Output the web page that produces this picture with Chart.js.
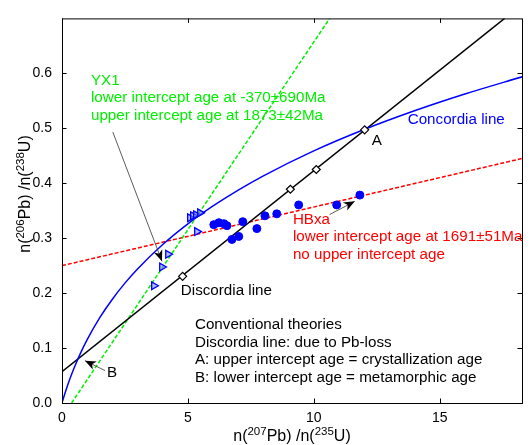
<!DOCTYPE html>
<html lang="en">
<head>
<meta charset="utf-8">
<title>Concordia diagram</title>
<script src="https://cdn.jsdelivr.net/npm/chart.js"></script>
<style>
  html, body { margin: 0; padding: 0; background: #fff; }
  #wrap { width: 530px; height: 445px; position: relative; }
</style>
</head>
<body>
<div id="wrap"><canvas id="chart"></canvas></div>
<script>
// concordia curve
const concX = [0, 0.05, 0.1, 0.2, 0.3, 0.5, 0.75, 1, 1.5, 2, 2.5, 3, 4, 5, 6, 7, 8, 10, 12, 14, 16, 18.3];
const concY = [0, 0.0077, 0.0151, 0.0291, 0.0422, 0.066, 0.0922, 0.1154, 0.1553, 0.1889, 0.2182, 0.244, 0.2885, 0.3261, 0.3586, 0.3875, 0.4135, 0.4589, 0.4978, 0.5319, 0.5624, 0.594];

// fitted lines (end points)
const discX = [0, 17.58];
const discY = [0.057, 0.7];
const yx1LineX = [0.38, 10.63];
const yx1LineY = [0, 0.7];
const hbxaLineX = [0, 18.27];
const hbxaLineY = [0.25, 0.445];

// diamonds on the discordia line
const nodeX = [4.79, 9.07, 10.1, 12.02];
const nodeY = [0.2305, 0.389, 0.425, 0.4972];

// YX1 samples (triangles)
const yx1X = [5.08, 5.2, 5.32, 5.48, 5.36, 4.21, 3.97, 3.65];
const yx1Y = [0.3372, 0.3408, 0.3425, 0.3461, 0.312, 0.2708, 0.2475, 0.2134];

// HBxa samples (dots)
const hbxaX = [6.03, 6.23, 6.43, 6.55, 7.18, 6.75, 7.02, 7.74, 8.06, 8.53, 9.4, 10.91, 11.83];
const hbxaY = [0.3246, 0.3282, 0.3264, 0.3228, 0.33, 0.2977, 0.3031, 0.3174, 0.3407, 0.3443, 0.3605, 0.3605, 0.3784];

const xTicks = [0, 5, 10, 15];
const yTicks = [0, 0.1, 0.2, 0.3, 0.4, 0.5, 0.6];

const FONT = '"Liberation Sans", Arial, Helvetica, sans-serif';
const BLUE = '#0000ff', GREEN = '#00ee00', RED = '#ff0000';

// text notes, anchored in data units (left / baseline of first line)
const notes = [
  {x: 1.15, y: 0.579, color: GREEN, lines: ['YX1', 'lower intercept age at -370±690Ma', 'upper intercept age at 1873±42Ma']},
  {x: 13.73, y: 0.5075, color: BLUE, lines: ['Concordia line']},
  {x: 12.3, y: 0.47, color: '#000', lines: ['A']},
  {x: 9.17, y: 0.3264, color: RED, lines: ['HBxa', 'lower intercept age at 1691±51Ma', 'no upper intercept age']},
  {x: 4.72, y: 0.197, color: '#000', lines: ['Discordia line']},
  {x: 1.79, y: 0.0466, color: '#000', lines: ['B']},
  {x: 5.28, y: 0.1345, color: '#000', lines: ['Conventional theories', 'Discordia line: due to Pb-loss', 'A: upper intercept age = crystallization age', 'B: lower intercept age = metamorphic age']}
];
const arrows = [
  {from: [2.02, 0.493], to: [3.97, 0.258]},
  {from: [1.71, 0.059], to: [0.91, 0.077]},
  {from: [10.63, 0.343], to: [11.63, 0.367]}
];

const pts = (xs, ys) => xs.map((x, i) => ({x: x, y: ys[i]}));

function drawRich(ctx, parts, x, y) {
  let cx = x;
  parts.forEach(p => {
    ctx.font = (p[1] ? '11.5px ' : '16px ') + FONT;
    ctx.fillText(p[0], cx, p[1] ? y - 6.5 : y);
    cx += ctx.measureText(p[0]).width;
  });
}
function richWidth(ctx, parts) {
  let w = 0;
  parts.forEach(p => {
    ctx.font = (p[1] ? '11.5px ' : '16px ') + FONT;
    w += ctx.measureText(p[0]).width;
  });
  return w;
}

const decor = {
  id: 'decor',
  afterDraw(chart) {
    const ctx = chart.ctx, a = chart.chartArea;
    const sx = chart.scales.x, sy = chart.scales.y;
    ctx.save();

    // box and inward ticks
    ctx.strokeStyle = '#000';
    ctx.lineWidth = 1;
    ctx.strokeRect(a.left + 0.5, a.top + 0.5, a.right - a.left, a.bottom - a.top);
    ctx.beginPath();
    xTicks.forEach(v => {
      const px = Math.round(sx.getPixelForValue(v)) + 0.5;
      ctx.moveTo(px, a.bottom); ctx.lineTo(px, a.bottom - 4.5);
      ctx.moveTo(px, a.top); ctx.lineTo(px, a.top + 4.5);
    });
    yTicks.forEach(v => {
      const py = Math.round(sy.getPixelForValue(v)) + 0.5;
      ctx.moveTo(a.left, py); ctx.lineTo(a.left + 4.5, py);
      ctx.moveTo(a.right, py); ctx.lineTo(a.right - 4.5, py);
    });
    ctx.stroke();

    // arrows
    arrows.forEach(ar => {
      const x0 = sx.getPixelForValue(ar.from[0]), y0 = sy.getPixelForValue(ar.from[1]);
      const x1 = sx.getPixelForValue(ar.to[0]), y1 = sy.getPixelForValue(ar.to[1]);
      const ang = Math.atan2(y1 - y0, x1 - x0);
      ctx.strokeStyle = '#333';
      ctx.lineWidth = 0.8;
      ctx.beginPath(); ctx.moveTo(x0, y0); ctx.lineTo(x1, y1); ctx.stroke();
      ctx.save();
      ctx.translate(x1, y1); ctx.rotate(ang);
      ctx.fillStyle = '#000';
      ctx.beginPath();
      ctx.moveTo(0, 0); ctx.lineTo(-11, -4.5); ctx.lineTo(-8, 0); ctx.lineTo(-11, 4.5);
      ctx.closePath(); ctx.fill();
      ctx.restore();
    });

    // notes
    ctx.font = '15.2px ' + FONT;
    ctx.textBaseline = 'alphabetic';
    ctx.textAlign = 'left';
    notes.forEach(n => {
      ctx.fillStyle = n.color;
      const px = sx.getPixelForValue(n.x), py = sy.getPixelForValue(n.y);
      n.lines.forEach((t, i) => ctx.fillText(t, px, py + i * 17.6));
    });

    // axis titles with superscripts
    ctx.fillStyle = '#000';
    const xt = [['n(', 0], ['207', 1], ['Pb) /n(', 0], ['235', 1], ['U)', 0]];
    const yt = [['n(', 0], ['206', 1], ['Pb) /n(', 0], ['238', 1], ['U)', 0]];
    const wx = richWidth(ctx, xt);
    drawRich(ctx, xt, (a.left + a.right) / 2 - wx / 2, 441);
    const wy = richWidth(ctx, yt);
    ctx.save();
    ctx.translate(30, 194);
    ctx.rotate(-Math.PI / 2);
    drawRich(ctx, yt, -wy / 2, 0);
    ctx.restore();

    ctx.restore();
  }
};

new Chart(document.getElementById('chart'), {
  type: 'scatter',
  data: {
    datasets: [
      {label: 'YX1', data: pts(yx1X, yx1Y), pointStyle: 'triangle', rotation: 90, pointRadius: 4.5,
       borderColor: BLUE, backgroundColor: 'rgba(110,130,255,0.55)', borderWidth: 1.3},
      {label: 'HBxa', data: pts(hbxaX, hbxaY), pointStyle: 'circle', pointRadius: 4,
       borderColor: BLUE, backgroundColor: BLUE, borderWidth: 1},
      {label: 'nodes', data: pts(nodeX, nodeY), pointStyle: 'rectRot', pointRadius: 4,
       borderColor: '#000', backgroundColor: '#fff', borderWidth: 1.2},
      {label: 'Concordia line', data: pts(concX, concY), showLine: true, pointRadius: 0,
       borderColor: BLUE, borderWidth: 1.5, cubicInterpolationMode: 'monotone'},
      {label: 'Discordia line', data: pts(discX, discY), showLine: true, pointRadius: 0,
       borderColor: '#000', borderWidth: 1.5},
      {label: 'YX1 fit', data: pts(yx1LineX, yx1LineY), showLine: true, pointRadius: 0,
       borderColor: GREEN, borderWidth: 1.5, borderDash: [4, 2]},
      {label: 'HBxa fit', data: pts(hbxaLineX, hbxaLineY), showLine: true, pointRadius: 0,
       borderColor: RED, borderWidth: 1.5, borderDash: [4, 2]}
    ]
  },
  options: {
    responsive: true,
    maintainAspectRatio: false,
    animation: false,
    events: [],
    layout: {padding: {left: 0, top: 13, right: 8, bottom: 0}},
    plugins: {legend: {display: false}, tooltip: {enabled: false}},
    scales: {
      x: {
        type: 'linear', min: 0, max: 18.27,
        afterBuildTicks: s => { s.ticks = xTicks.map(v => ({value: v})); },
        afterFit: s => { s.height = 42; },
        grid: {display: false, drawTicks: false}, border: {display: false},
        ticks: {color: '#000', font: {size: 14, family: FONT}, padding: 7, maxRotation: 0,
                callback: v => String(v)}
      },
      y: {
        type: 'linear', min: 0, max: 0.7,
        afterBuildTicks: s => { s.ticks = yTicks.map(v => ({value: v})); },
        afterFit: s => { s.width = 62; },
        grid: {display: false, drawTicks: false}, border: {display: false},
        ticks: {color: '#000', font: {size: 14, family: FONT}, padding: 10,
                callback: v => v.toFixed(1)}
      }
    }
  },
  plugins: [decor]
});
</script>
</body>
</html>
